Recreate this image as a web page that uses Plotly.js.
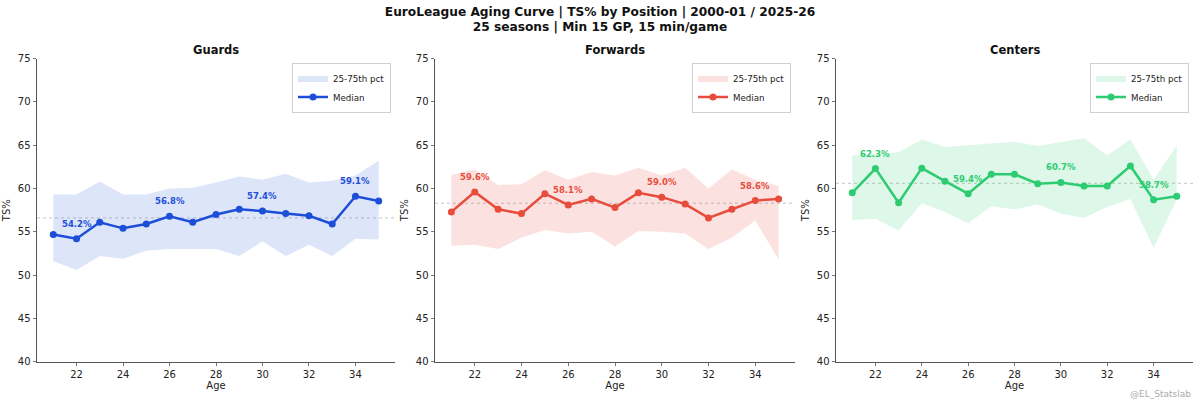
<!DOCTYPE html>
<html>
<head>
<meta charset="utf-8">
<script src="https://cdn.plot.ly/plotly-3.0.1.min.js"></script>
<style>
  html, body { margin: 0; padding: 0; background: #fff; }
  #chart { width: 1200px; height: 406px; }
</style>
</head>
<body>
<div id="chart"></div>
<script>
// data
const ages = [21, 22, 23, 24, 25, 26, 27, 28, 29, 30, 31, 32, 33, 34, 35];
const labelAges = [22, 26, 30, 34];

const guardsMedian = [54.7, 54.2, 56.1, 55.4, 55.9, 56.8, 56.1, 57.0, 57.6, 57.4, 57.1, 56.85, 55.9, 59.1, 58.55];
const guardsP25 = [51.6, 50.6, 52.2, 51.9, 52.8, 53.0, 53.0, 53.0, 52.2, 53.9, 52.2, 53.5, 52.2, 54.2, 54.1];
const guardsP75 = [59.3, 59.3, 60.8, 59.3, 59.3, 60.0, 60.1, 60.7, 61.4, 61.0, 61.7, 60.7, 60.9, 61.5, 63.2];

const forwardsMedian = [57.3, 59.6, 57.6, 57.1, 59.4, 58.1, 58.8, 57.8, 59.5, 59.0, 58.2, 56.6, 57.6, 58.6, 58.8];
const forwardsP25 = [53.4, 53.5, 53.0, 54.3, 55.2, 54.8, 55.0, 53.3, 55.1, 55.0, 54.8, 53.0, 54.3, 56.3, 51.8];
const forwardsP75 = [61.6, 62.2, 60.4, 60.5, 62.1, 61.0, 61.9, 61.5, 62.4, 61.5, 62.4, 60.0, 62.2, 61.0, 60.3];

const centersMedian = [59.5, 62.3, 58.35, 62.35, 60.85, 59.4, 61.65, 61.65, 60.55, 60.7, 60.3, 60.3, 62.6, 58.7, 59.1];
const centersP25 = [56.35, 56.5, 55.15, 58.3, 57.3, 56.0, 57.95, 57.6, 58.15, 57.1, 56.6, 57.9, 58.8, 53.15, 58.7];
const centersP75 = [63.8, 64.0, 64.2, 65.65, 64.8, 65.0, 65.2, 65.4, 64.9, 65.35, 65.8, 63.8, 65.7, 61.0, 65.0];

const positions = ["Guards", "Forwards", "Centers"];
const overallMedian = [56.6, 58.3, 60.6];
const colors = ["#1d4ed8", "#e74c3c", "#2ecc71"];
const fills = ["rgba(29,78,216,0.15)", "rgba(231,76,60,0.16)", "rgba(46,204,113,0.16)"];

const medians = [guardsMedian, forwardsMedian, centersMedian];
const p25s = [guardsP25, forwardsP25, centersP25];
const p75s = [guardsP75, forwardsP75, centersP75];

// panel placement in pixels (1200 x 406 figure)
const W = 1200, H = 406;
const panels = [[37, 395], [435, 795], [836, 1193]];
const plotTop = 58.6, plotBottom = 361.7;
const font = "DejaVu Sans, sans-serif";

const traces = [];
const annotations = [];
const shapes = [];
const layout = {
  width: W,
  height: H,
  margin: { t: 0, l: 0, r: 0, b: 0 },
  paper_bgcolor: "#fff",
  plot_bgcolor: "#fff",
  font: { family: font, color: "#222", size: 10 },
  hovermode: false,
  title: {
    text: "<b>EuroLeague Aging Curve | TS% by Position | 2000-01 / 2025-26<br>25 seasons | Min 15 GP, 15 min/game</b>",
    font: { size: 12.2, family: font, color: "#111" },
    x: 0.5,
    xanchor: "center",
    y: 1 - 15.5 / H,
    yanchor: "middle",
  },
};

positions.forEach((pos, i) => {
  const n = i === 0 ? "" : String(i + 1);
  const xa = "x" + n, ya = "y" + n;
  const lg = "legend" + n;

  traces.push({
    x: ages, y: p25s[i], xaxis: xa, yaxis: ya,
    type: "scatter", mode: "lines",
    line: { width: 0, color: colors[i] },
    showlegend: false, legend: lg, hoverinfo: "skip",
  });
  traces.push({
    x: ages, y: p75s[i], xaxis: xa, yaxis: ya,
    type: "scatter", mode: "lines",
    fill: "tonexty", fillcolor: fills[i],
    line: { width: 0, color: colors[i] },
    name: "25-75th pct", legend: lg, hoverinfo: "skip",
  });
  traces.push({
    x: ages, y: medians[i], xaxis: xa, yaxis: ya,
    type: "scatter", mode: "lines+markers",
    line: { color: colors[i], width: 2.5 },
    marker: { color: colors[i], size: 7 },
    name: "Median", legend: lg,
  });

  const d0 = panels[i][0] / W, d1 = panels[i][1] / W;

  layout["xaxis" + n] = {
    domain: [d0, d1],
    anchor: ya,
    range: [20.3, 35.7],
    tickvals: [22, 24, 26, 28, 30, 32, 34],
    showgrid: false, zeroline: false,
    showline: true, linecolor: "#555", linewidth: 1,
    ticks: "outside", ticklen: 3.5, tickwidth: 0.8, tickcolor: "#555",
    tickfont: { size: 10, color: "#222" },
    title: { text: "Age", font: { size: 10, color: "#222" }, standoff: 1 },
    fixedrange: true,
  };
  layout["yaxis" + n] = {
    domain: [1 - plotBottom / H, 1 - plotTop / H],
    anchor: xa,
    range: [40, 75],
    tickvals: [40, 45, 50, 55, 60, 65, 70, 75],
    showgrid: false, zeroline: false,
    showline: true, linecolor: "#555", linewidth: 1,
    ticks: "outside", ticklen: 3.5, tickwidth: 0.8, tickcolor: "#555",
    tickfont: { size: 10, color: "#222" },
    title: { text: "TS%", font: { size: 10, color: "#222" }, standoff: 5 },
    fixedrange: true,
  };

  layout[lg] = {
    x: d1 - 4 / W, xanchor: "right",
    y: 1 - (plotTop + 4) / H, yanchor: "top",
    bgcolor: "rgba(255,255,255,0.85)",
    bordercolor: "#d0d0d0", borderwidth: 1,
    font: { size: 8.7, color: "#222" },
    traceorder: "normal",
    itemwidth: 30,
    tracegroupgap: 0,
  };

  // overall median reference line
  shapes.push({
    type: "line", xref: xa + " domain", yref: ya,
    x0: 0, x1: 1, y0: overallMedian[i], y1: overallMedian[i],
    line: { color: "rgba(120,120,120,0.55)", width: 0.8, dash: "dot" },
    layer: "below",
  });

  // subplot title
  annotations.push({
    xref: "paper", yref: "paper",
    x: (d0 + d1) / 2, y: 1 - 50 / H,
    text: "<b>" + pos + "</b>", showarrow: false,
    font: { size: 11.5, color: "#111" },
    xanchor: "center", yanchor: "middle",
  });

  // value labels at selected ages
  labelAges.forEach((a) => {
    const v = medians[i][ages.indexOf(a)];
    annotations.push({
      xref: xa, yref: ya, x: a, y: v,
      text: "<b>" + v.toFixed(1) + "%</b>",
      showarrow: false, yshift: 15,
      xanchor: "center", yanchor: "middle",
      font: { size: 8.5, color: colors[i] },
    });
  });
});

annotations.push({
  xref: "paper", yref: "paper", x: 1193 / W, y: 1 - 394 / H,
  text: "@EL_Statslab", showarrow: false,
  xanchor: "right", yanchor: "middle",
  font: { size: 9, color: "#aaa" },
});

layout.annotations = annotations;
layout.shapes = shapes;

Plotly.newPlot("chart", traces, layout, { displayModeBar: false, staticPlot: true });
</script>
</body>
</html>
